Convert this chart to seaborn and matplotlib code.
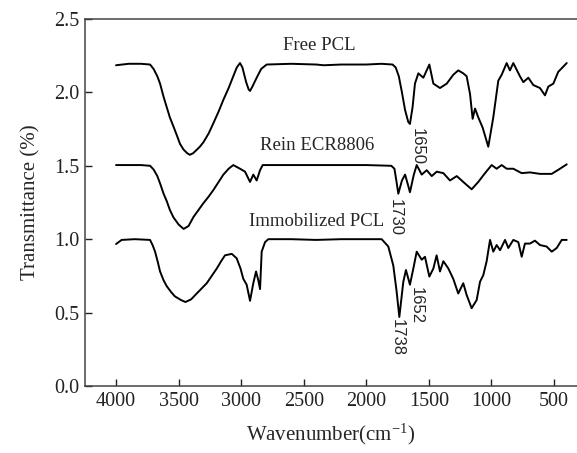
import numpy as np
import pandas as pd
import matplotlib
matplotlib.use("Agg")
import matplotlib.pyplot as plt
import seaborn as sns

# Free PCL spectrum (wavenumber, transmittance)
free_wn = [4000, 3900, 3800, 3728, 3700, 3670, 3648, 3620, 3595, 3570, 3542, 3515,
           3489, 3460, 3430, 3410, 3385, 3360, 3330, 3302, 3260, 3222, 3180, 3142,
           3100, 3063, 3035, 3009, 2990, 2960, 2940, 2929, 2910, 2876, 2840, 2796,
           2600, 2400, 2340, 2200, 2000, 1880, 1790, 1765, 1740, 1715, 1690, 1665,
           1651, 1630, 1611, 1584, 1544, 1496,
           1464, 1411, 1357, 1305, 1265, 1225, 1198, 1171, 1150, 1131, 1105, 1070,
           1025, 985, 945, 918, 878, 852, 825, 772, 745, 705, 665, 612, 572, 545,
           505, 466, 398]
free_t = [2.185, 2.195, 2.195, 2.19, 2.16, 2.11, 2.06, 1.97, 1.90, 1.83, 1.77, 1.71,
          1.65, 1.61, 1.585, 1.575, 1.585, 1.605, 1.63, 1.66, 1.72, 1.79, 1.87, 1.95,
          2.03, 2.11, 2.17, 2.20, 2.17, 2.07, 2.02, 2.01, 2.04, 2.10, 2.16, 2.19,
          2.195, 2.19, 2.185, 2.19, 2.19, 2.195, 2.19, 2.17, 2.11, 2.00, 1.88, 1.80,
          1.785, 1.90, 2.06, 2.13, 2.10, 2.19,
          2.06, 2.03, 2.06, 2.12, 2.15, 2.13, 2.11, 1.99, 1.82, 1.89, 1.83, 1.76,
          1.63, 1.83, 2.08, 2.12, 2.20, 2.15, 2.20, 2.11, 2.07, 2.10, 2.05, 2.03, 1.98, 2.04,
          2.06, 2.14, 2.20]

# Rein ECR8806 spectrum
rein_wn = [4000, 3900, 3800, 3728, 3700, 3670, 3648, 3620, 3595, 3570, 3542, 3500,
           3460, 3420, 3382, 3340, 3302, 3260, 3222, 3180, 3142, 3100, 3063, 3009,
           2969, 2929, 2903, 2876, 2849, 2828, 2600,
           2400, 2200, 2000, 1800, 1775, 1760, 1744, 1715, 1690, 1670, 1651, 1620,
           1597, 1557, 1517, 1477,
           1437, 1384, 1331, 1277, 1225, 1158, 1105, 1051, 998, 958, 918, 878, 825,
           758, 692, 612, 518, 452, 398]
rein_t = [1.505, 1.505, 1.505, 1.50, 1.475, 1.43, 1.38, 1.31, 1.26, 1.20, 1.15, 1.10,
          1.07, 1.09, 1.15, 1.20, 1.245, 1.29, 1.335, 1.39, 1.44, 1.48, 1.505, 1.48,
          1.46, 1.39, 1.44, 1.40, 1.47, 1.505, 1.505,
          1.505, 1.505, 1.505, 1.50, 1.48, 1.40, 1.31, 1.40, 1.44, 1.38, 1.32, 1.44,
          1.505, 1.44, 1.47, 1.43,
          1.46, 1.45, 1.40, 1.43, 1.39, 1.34, 1.39, 1.45, 1.505, 1.48, 1.505, 1.48, 1.48,
          1.45, 1.455, 1.445, 1.445, 1.48, 1.51]

# Immobilized PCL spectrum
immo_wn = [4000, 3955, 3850, 3728, 3708, 3688, 3665, 3648, 3620, 3595, 3560, 3529,
           3480, 3445, 3400, 3355, 3315, 3275, 3235, 3195, 3160, 3129, 3075, 3036,
           3005, 2983, 2956, 2929, 2903, 2881, 2863, 2849,
           2836, 2809, 2783, 2600, 2400, 2200, 2000, 1877, 1824, 1784, 1757, 1736,
           1704, 1683, 1651, 1624, 1597, 1557, 1531, 1496, 1464, 1438, 1411, 1384,
           1344, 1305, 1265, 1225, 1198, 1158, 1118, 1091, 1065, 1038, 1011, 985,
           958, 931, 891, 865, 825, 785, 758, 732, 692, 652, 612, 559, 518, 478,
           438, 398]
immo_t = [0.967, 0.995, 1.0, 0.995, 0.96, 0.915, 0.84, 0.78, 0.72, 0.68, 0.64, 0.61,
          0.585, 0.572, 0.59, 0.63, 0.665, 0.70, 0.75, 0.80, 0.85, 0.89, 0.90, 0.87,
          0.80, 0.73, 0.69, 0.58, 0.70, 0.78, 0.72, 0.66,
          0.915, 0.98, 1.0, 1.0, 0.995, 1.0, 1.0, 1.0, 0.95, 0.82, 0.64, 0.47,
          0.71, 0.79, 0.69, 0.80, 0.915, 0.86, 0.88, 0.745, 0.80, 0.89, 0.78, 0.85,
          0.80, 0.73, 0.63, 0.70, 0.62, 0.53, 0.585, 0.71, 0.755, 0.85, 0.995, 0.915,
          0.96, 0.925, 0.995, 0.94, 0.995, 0.98, 0.88, 0.97, 0.97, 0.99, 0.96, 0.95, 0.915, 0.94,
          0.995, 0.995]

# curve names and label positions
curve_names = ["Free PCL", "Rein ECR8806", "Immobilized PCL"]
name_pos = [(2378, 2.32), (2394, 1.64), (2394, 1.12)]
peak_labels = ["1650", "1730", "1738", "1652"]
peak_pos = [(1595, 1.63), (1771, 1.15), (1755, 0.33), (1603, 0.545)]

sns.set_style("ticks")
plt.rcParams['font.family'] = ['Liberation Serif', 'DejaVu Serif']
plt.rcParams['mathtext.fontset'] = 'stix'

fig = plt.figure(figsize=(5.77, 4.53), dpi=100)
ax = fig.add_axes([0.1473, 0.148, 0.8527, 0.810])

frames = [
    pd.DataFrame({"wn": free_wn, "T": free_t}),
    pd.DataFrame({"wn": rein_wn, "T": rein_t}),
    pd.DataFrame({"wn": immo_wn, "T": immo_t}),
]
for df in frames:
    sns.lineplot(data=df, x="wn", y="T", sort=False, color="black",
                 linewidth=1.4, ax=ax)

for name, (x, y) in zip(curve_names, name_pos):
    ax.text(x, y, name, ha="center", va="center", fontsize=13.5)

for lab, (x, y) in zip(peak_labels, peak_pos):
    ax.text(x, y, lab, ha="center", va="center", rotation=-90,
            fontsize=12, family=["Liberation Sans", "DejaVu Sans"])

ax.set_xlim(4248, 316)
ax.set_ylim(0, 2.5)
ax.set_xticks([4000, 3500, 3000, 2500, 2000, 1500, 1000, 500])
ax.set_yticks([0.0, 0.5, 1.0, 1.5, 2.0, 2.5])
ax.set_yticklabels(["0.0", "0.5", "1.0", "1.5", "2.0", "2.5"])
ax.tick_params(direction="in", length=5, width=1, labelsize=14.5, pad=4,
               colors="#222222")
ax.spines["right"].set_visible(False)
for s in ["left", "bottom", "top"]:
    ax.spines[s].set_color("#444444")
    ax.spines[s].set_linewidth(1.1)

ax.set_xlabel("Wavenumber(cm$^{\\mathregular{-1}}$)", fontsize=15, labelpad=8)
ax.set_ylabel("Transmittance (%)", fontsize=15, labelpad=10)

fig.savefig("out.png", dpi=100)
